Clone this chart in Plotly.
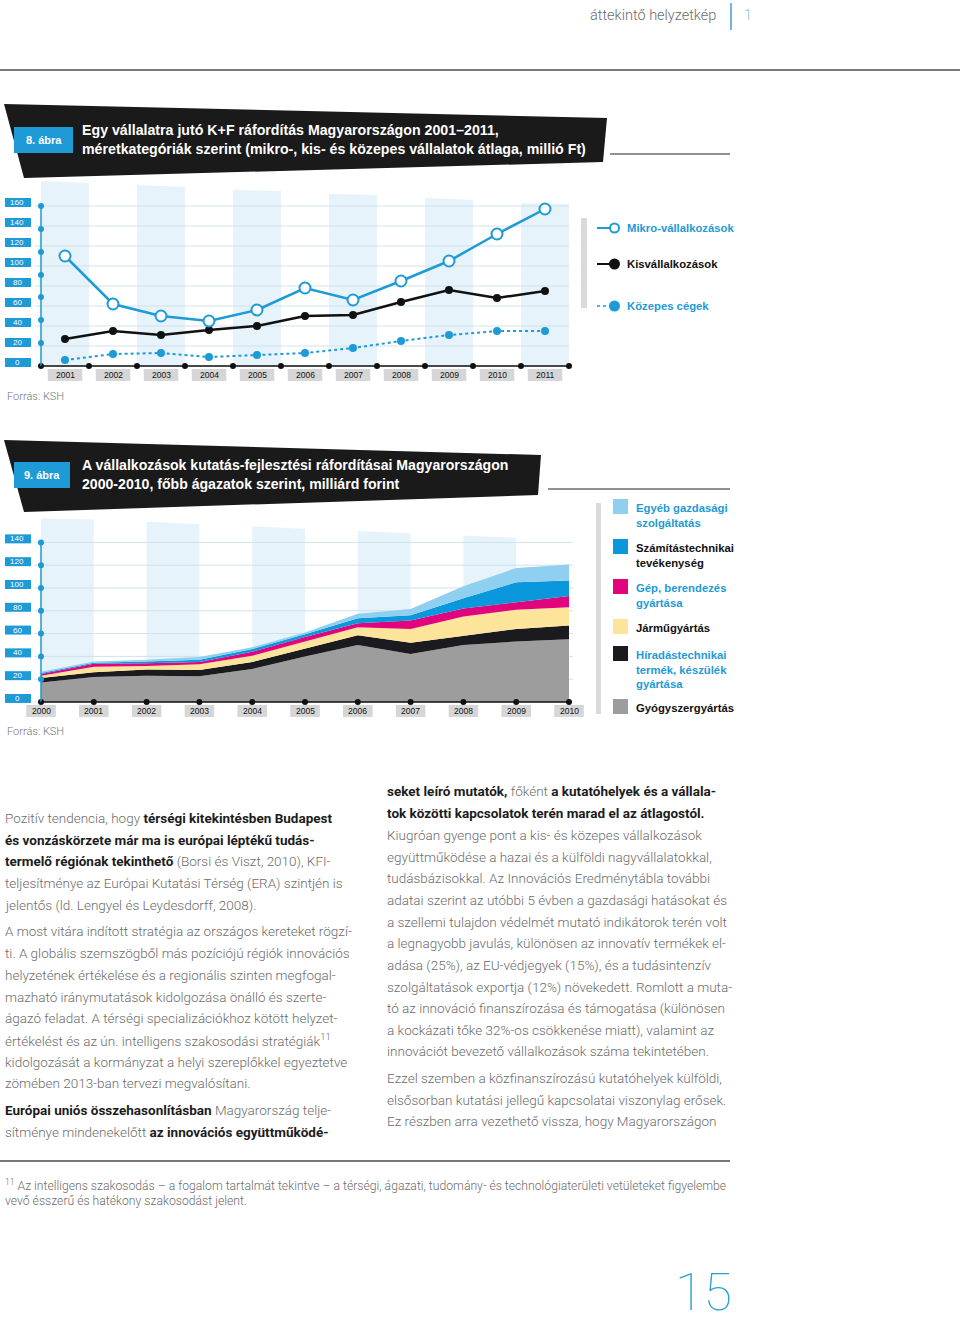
import plotly.graph_objects as go

W, H = 960, 1325
def X(p): return p / W
def Y(p): return 1 - p / H

# ---------------- data: chart 1 (8. ábra) ----------------
years1 = [2001, 2002, 2003, 2004, 2005, 2006, 2007, 2008, 2009, 2010, 2011]
micro = [110, 62, 50, 45, 56, 78, 66, 85, 105, 132, 157]
small = [27, 35, 31, 36, 40, 50, 51, 64, 76, 68, 75]
medium = [6, 12, 13, 9, 11, 13, 18, 25, 31, 35, 35]
ticks1 = [0, 20, 40, 60, 80, 100, 120, 140, 160]
axis_dots1 = [23, 46, 69, 91, 114, 137, 160]
band_years1 = [2001, 2003, 2005, 2007, 2009, 2011]
band_tops1 = [(185, 183), (181, 179), (176, 175), (172, 171), (168, 166), (163, 162)]
legend1 = ["Mikro-vállalkozások", "Kisvállalkozások", "Közepes cégek"]

# ---------------- data: chart 2 (9. ábra) ----------------
years2 = [2000, 2001, 2002, 2003, 2004, 2005, 2006, 2007, 2008, 2009, 2010]
pharma = [17, 22, 23, 22.5, 29, 40, 50, 42, 50, 53, 55]
telecom = [4, 4, 5.5, 5.5, 6, 7, 8.5, 10, 8, 11, 12]
vehicle = [2, 5, 3, 5, 5.5, 6, 7, 12, 17, 17, 16]
machine = [1.5, 2.5, 2.5, 2, 3.5, 4, 3.5, 7.5, 7, 6.5, 10]
computing = [1, 1, 1.5, 2, 2.5, 2.5, 4.5, 4.5, 9, 17.5, 13.5]
other = [1, 1, 1.5, 2.5, 1.5, 1.5, 4, 5.5, 10.5, 12.5, 14]
ticks2 = [0, 20, 40, 60, 80, 100, 120, 140]
band_starts2 = [2000, 2002, 2004, 2006, 2008]
band_tops2 = [(161, 160), (158, 156), (154, 152), (150, 148), (146, 144)]

series2 = [
    ("Gyógyszergyártás", pharma, "#9d9d9e"),
    ("Híradástechnikai<br>termék, készülék<br>gyártása", telecom, "#1b1a1f"),
    ("Járműgyártás", vehicle, "#fde49b"),
    ("Gép, berendezés<br>gyártása", machine, "#e2047d"),
    ("Számítástechnikai<br>tevékenység", computing, "#0a97dc"),
    ("Egyéb gazdasági<br>szolgáltatás", other, "#8fd0f0"),
]

BLUE = "#1e9ad6"
BAND = "#e6f3fb"
GRID = "#cfe2ec"
BODY = "Roboto"
COND = "Liberation Sans"
BODY_SIZE = 13.5

fig = go.Figure()
shapes = []
ann = []

def text(x, y, t, size, color, xref="paper", yref="paper", xa="center", ya="middle",
         family=COND, weight=None, align="left"):
    f = dict(family=family, size=size, color=color)
    if weight is not None:
        f["weight"] = weight
    ann.append(dict(xref=xref, yref=yref, x=x, y=y, text=t, showarrow=False,
                    xanchor=xa, yanchor=ya, align=align, font=f))

# ================= chart 1 =================
for (yr, (tl, tr)) in zip(band_years1, band_tops1):
    shapes.append(dict(type="path", xref="x", yref="y", layer="below",
                       path=f"M {yr-0.5},0 L {yr-0.5},{tl} L {yr+0.5},{tr} L {yr+0.5},0 Z",
                       fillcolor=BAND, line=dict(width=0)))
x0_1 = years1[0] - 0.5
x1_1 = years1[-1] + 0.5
for v in ticks1:
    shapes.append(dict(type="line", xref="x", yref="y", layer="below",
                       x0=x0_1 - 0.12, x1=x1_1, y0=v, y1=v, line=dict(color=GRID, width=1)))
    shapes.append(dict(type="rect", xref="paper", yref="y", x0=X(5), x1=X(31), y0=v - 1, y1=v + 8,
                       fillcolor=BLUE, line=dict(width=0)))
    text(X(17), v + 3.5, str(v), 8, "white", yref="y")
shapes.append(dict(type="line", xref="x", yref="y", x0=x0_1, x1=x0_1, y0=0, y1=ticks1[-1],
                   line=dict(color=BLUE, width=1.5)))
shapes.append(dict(type="line", xref="x", yref="y", x0=x0_1, x1=x1_1, y0=0, y1=0,
                   line=dict(color="#111", width=1.5)))
for yr in years1:
    shapes.append(dict(type="rect", xref="x", yref="y", x0=yr - 0.36, x1=yr + 0.36, y0=-15, y1=-3,
                       fillcolor="#d6d6d6", line=dict(width=0)))
    text(yr, -9, str(yr), 8.5, "#111", xref="x", yref="y")

half_years = [y - 0.5 for y in years1] + [years1[-1] + 0.5]
fig.add_trace(go.Scatter(x=[x0_1] * len(axis_dots1), y=axis_dots1, mode="markers",
                         marker=dict(color=BLUE, size=6), xaxis="x", yaxis="y", hoverinfo="skip"))
fig.add_trace(go.Scatter(x=half_years, y=[0] * len(half_years), mode="markers",
                         marker=dict(color="#111", size=6), xaxis="x", yaxis="y", hoverinfo="skip"))
fig.add_trace(go.Scatter(x=years1, y=medium, mode="lines+markers", name=legend1[2],
                         line=dict(color=BLUE, width=2, dash="dot"),
                         marker=dict(color=BLUE, size=8), xaxis="x", yaxis="y"))
fig.add_trace(go.Scatter(x=years1, y=small, mode="lines+markers", name=legend1[1],
                         line=dict(color="#111", width=2.5),
                         marker=dict(color="#111", size=8), xaxis="x", yaxis="y"))
fig.add_trace(go.Scatter(x=years1, y=micro, mode="lines+markers", name=legend1[0],
                         line=dict(color=BLUE, width=2.5),
                         marker=dict(color="white", size=11, line=dict(color=BLUE, width=2)),
                         xaxis="x", yaxis="y"))

# legend 1
shapes.append(dict(type="rect", xref="paper", yref="paper", x0=X(581), x1=X(587), y0=Y(308), y1=Y(218),
                   fillcolor="#dadada", line=dict(width=0)))
leg1 = [(228, BLUE, "solid", "open"), (264, "#111", "solid", "fill"), (306, BLUE, "dot", "fill")]
for name, (yy, col, dash, mk) in zip(legend1, leg1):
    shapes.append(dict(type="line", xref="paper", yref="paper", x0=X(597), x1=X(611), y0=Y(yy), y1=Y(yy),
                       line=dict(color=col, width=2 if dash == "solid" else 1.5, dash=dash)))
    shapes.append(dict(type="circle", xref="paper", yref="paper", x0=X(610), x1=X(619), y0=Y(yy + 4.5),
                       y1=Y(yy - 4.5), fillcolor="white" if mk == "open" else col,
                       line=dict(color=col, width=2)))
    text(X(625), Y(yy), f"<b>{name}</b>", 11.3, col, xa="left")

# title 1
shapes.append(dict(type="path", xref="paper", yref="paper",
                   path=f"M {X(4)},{Y(104)} L {X(607)},{Y(118)} L {X(603)},{Y(162)} L {X(24)},{Y(178)} Z",
                   fillcolor="#1a1a1a", line=dict(width=0)))
shapes.append(dict(type="rect", xref="paper", yref="paper", x0=X(14), x1=X(73), y0=Y(153), y1=Y(127),
                   fillcolor=BLUE, line=dict(width=0)))
text(X(43.5), Y(140), "<b>8. ábra</b>", 11, "white")
text(X(80), Y(130), "<b>Egy vállalatra jutó K+F ráfordítás Magyarországon 2001–2011,</b>", 14.2, "white", xa="left")
text(X(80), Y(149), "<b>méretkategóriák szerint (mikro-, kis- és közepes vállalatok átlaga, millió Ft)</b>",
     14.2, "white", xa="left")
shapes.append(dict(type="line", xref="paper", yref="paper", x0=X(610), x1=X(730), y0=Y(154), y1=Y(154),
                   line=dict(color="#222", width=1)))
text(X(5), Y(396), "Forrás: KSH", 11, "#777", xa="left", family=BODY, weight=300)

# ================= chart 2 =================
for (st, (tl, tr)) in zip(band_starts2, band_tops2):
    shapes.append(dict(type="path", xref="x2", yref="y2", layer="below",
                       path=f"M {st},0 L {st},{tl} L {st+1},{tr} L {st+1},0 Z",
                       fillcolor=BAND, line=dict(width=0)))
k2 = 1 / 1.14
for v in ticks2:
    shapes.append(dict(type="line", xref="x2", yref="y2", layer="below",
                       x0=years2[0] - 0.12, x1=years2[-1] + 0.08, y0=v, y1=v, line=dict(color=GRID, width=1)))
    shapes.append(dict(type="rect", xref="paper", yref="y2", x0=X(5), x1=X(31), y0=v - 1 * k2, y1=v + 8 * k2,
                       fillcolor=BLUE, line=dict(width=0)))
    text(X(17), v + 3.5 * k2, str(v), 8, "white", yref="y2")

for name, vals, col in series2:
    fig.add_trace(go.Scatter(x=years2, y=vals, mode="lines", stackgroup="one", name=name,
                             line=dict(width=0, color=col), fillcolor=col, xaxis="x2", yaxis="y2"))

shapes.append(dict(type="line", xref="x2", yref="y2", x0=years2[0], x1=years2[0], y0=0, y1=ticks2[-1],
                   line=dict(color=BLUE, width=1.5)))
shapes.append(dict(type="line", xref="x2", yref="y2", x0=years2[0], x1=years2[-1], y0=0, y1=0,
                   line=dict(color="#111", width=1.5)))
fig.add_trace(go.Scatter(x=[years2[0]] * (len(ticks2) - 1), y=ticks2[1:], mode="markers",
                         marker=dict(color=BLUE, size=6), xaxis="x2", yaxis="y2", hoverinfo="skip"))
fig.add_trace(go.Scatter(x=years2, y=[0] * len(years2), mode="markers",
                         marker=dict(color="#111", size=6), xaxis="x2", yaxis="y2", hoverinfo="skip"))
for yr in years2:
    shapes.append(dict(type="rect", xref="x2", yref="y2", x0=yr - 0.28, x1=yr + 0.28, y0=-15 * k2, y1=-3 * k2,
                       fillcolor="#d6d6d6", line=dict(width=0)))
    text(yr, -9 * k2, str(yr), 8.5, "#111", xref="x2", yref="y2")

# legend 2
shapes.append(dict(type="rect", xref="paper", yref="paper", x0=X(596), x1=X(601), y0=Y(714), y1=Y(503),
                   fillcolor="#dadada", line=dict(width=0)))
leg2_pos = [699, 646, 619, 579, 539, 499]
leg2_txtcol = ["#111", BLUE, "#111", BLUE, "#111", BLUE]
for (name, vals, col), top, tcol in zip(series2, leg2_pos, leg2_txtcol):
    shapes.append(dict(type="rect", xref="paper", yref="paper", x0=X(613), x1=X(628), y0=Y(top + 15),
                       y1=Y(top), fillcolor=col, line=dict(width=0)))
    text(X(634), Y(top + 1), f"<b>{name}</b>", 11.3, tcol, xa="left", ya="top")

# title 2
shapes.append(dict(type="path", xref="paper", yref="paper",
                   path=f"M {X(4)},{Y(440)} L {X(541)},{Y(455)} L {X(538)},{Y(495)} L {X(24)},{Y(512)} Z",
                   fillcolor="#1a1a1a", line=dict(width=0)))
shapes.append(dict(type="rect", xref="paper", yref="paper", x0=X(14), x1=X(70), y0=Y(488), y1=Y(462),
                   fillcolor=BLUE, line=dict(width=0)))
text(X(42), Y(475), "<b>9. ábra</b>", 11, "white")
text(X(80), Y(465), "<b>A vállalkozások kutatás-fejlesztési ráfordításai Magyarországon</b>", 14.1, "white", xa="left")
text(X(80), Y(484), "<b>2000-2010, főbb ágazatok szerint, milliárd forint</b>", 14.1, "white", xa="left")
shapes.append(dict(type="line", xref="paper", yref="paper", x0=X(548), x1=X(730), y0=Y(489), y1=Y(489),
                   line=dict(color="#222", width=1)))
text(X(5), Y(731), "Forrás: KSH", 11, "#777", xa="left", family=BODY, weight=300)

# ================= page text =================
def B(s):
    return f'<span style="color:#1c1c1c"><b>{s}</b></span>'

left_lines = [
    (818, "Pozitív tendencia, hogy " + B("térségi kitekintésben Budapest")),
    (840, B("és vonzáskörzete már ma is európai léptékű tudás-")),
    (861, B("termelő régiónak tekinthető") + " (Borsi és Viszt, 2010), KFI-"),
    (883, "teljesítménye az Európai Kutatási Térség (ERA) szintjén is"),
    (905, "jelentős (ld. Lengyel és Leydesdorff, 2008)."),
    (931, "A most vitára indított stratégia az országos kereteket rögzí-"),
    (953, "ti. A globális szemszögből más pozíciójú régiók innovációs"),
    (975, "helyzetének értékelése és a regionális szinten megfogal-"),
    (997, "mazható iránymutatások kidolgozása önálló és szerte-"),
    (1018, "ágazó feladat. A térségi specializációkhoz kötött helyzet-"),
    (1040, "értékelést és az ún. intelligens szakosodási stratégiák<sup>11</sup>"),
    (1062, "kidolgozását a kormányzat a helyi szereplőkkel egyeztetve"),
    (1083, "zömében 2013-ban tervezi megvalósítani."),
    (1110, B("Európai uniós összehasonlításban") + " Magyarország telje-"),
    (1132, "sítménye mindenekelőtt " + B("az innovációs együttműködé-")),
]
right_lines = [
    (791, B("seket leíró mutatók,") + " főként " + B("a kutatóhelyek és a vállala-")),
    (813, B("tok közötti kapcsolatok terén marad el az átlagostól.")),
    (835, "Kiugróan gyenge pont a kis- és közepes vállalkozások"),
    (857, "együttműködése a hazai és a külföldi nagyvállalatokkal,"),
    (878, "tudásbázisokkal. Az Innovációs Eredménytábla további"),
    (900, "adatai szerint az utóbbi 5 évben a gazdasági hatásokat és"),
    (922, "a szellemi tulajdon védelmét mutató indikátorok terén volt"),
    (943, "a legnagyobb javulás, különösen az innovatív termékek el-"),
    (965, "adása (25%), az EU-védjegyek (15%), és a tudásintenzív"),
    (987, "szolgáltatások exportja (12%) növekedett. Romlott a muta-"),
    (1008, "tó az innováció finanszírozása és támogatása (különösen"),
    (1030, "a kockázati tőke 32%-os csökkenése miatt), valamint az"),
    (1051, "innovációt bevezető vállalkozások száma tekintetében."),
    (1078, "Ezzel szemben a közfinanszírozású kutatóhelyek külföldi,"),
    (1100, "elsősorban kutatási jellegű kapcsolatai viszonylag erősek."),
    (1121, "Ez részben arra vezethető vissza, hogy Magyarországon"),
]
for (yy, t) in left_lines:
    text(X(3), Y(yy), t, BODY_SIZE, "#6c6c6c", xa="left", family=BODY, weight=300)
for (yy, t) in right_lines:
    text(X(385), Y(yy), t, BODY_SIZE, "#6c6c6c", xa="left", family=BODY, weight=300)

# header
text(X(718), Y(16), "áttekintő helyzetkép", 14.5, "#6c6c6c", xa="right", family=BODY, weight=300)
text(X(742), Y(16), "1", 14.5, "#8cc3da", xa="left", family=BODY, weight=300)
shapes.append(dict(type="line", xref="paper", yref="paper", x0=X(731), x1=X(731), y0=Y(3), y1=Y(30),
                   line=dict(color="#3fa0c8", width=1.5)))
shapes.append(dict(type="line", xref="paper", yref="paper", x0=0, x1=1, y0=Y(70), y1=Y(70),
                   line=dict(color="#7a7a7a", width=2)))

# footer
shapes.append(dict(type="line", xref="paper", yref="paper", x0=0, x1=X(730), y0=Y(1161), y1=Y(1161),
                   line=dict(color="#4a4a4a", width=1.5)))
text(X(3), Y(1185), "<sup>11</sup> Az intelligens szakosodás – a fogalom tartalmát tekintve – a térségi, ágazati, "
     "tudomány- és technológiaterületi vetületeket figyelembe", 12.2, "#6c6c6c", xa="left", family=BODY, weight=300)
text(X(3), Y(1201), "vevő ésszerű és hatékony szakosodást jelent.", 12.2, "#6c6c6c", xa="left",
     family=BODY, weight=300)
text(X(703), 0, "15", 52, "#2a9fd6", ya="bottom", family=BODY, weight=100)

ax_common = dict(visible=False, showgrid=False, zeroline=False, fixedrange=True)
fig.update_layout(
    width=W, height=H, margin=dict(l=0, r=0, t=0, b=0),
    paper_bgcolor="white", plot_bgcolor="rgba(0,0,0,0)", showlegend=False,
    xaxis=dict(domain=[0, X(600)], range=[2000.5 - 41 / 48, 2000.5 + 559 / 48], anchor="y", **ax_common),
    yaxis=dict(domain=[Y(388), Y(176)], range=[-22, 190], anchor="x", **ax_common),
    xaxis2=dict(domain=[0, X(600)], range=[2000 - 41 / 52.8, 2000 + 559 / 52.8], anchor="y2", **ax_common),
    yaxis2=dict(domain=[Y(725), Y(514)], range=[-20.2, 164.9], anchor="x2", **ax_common),
    shapes=shapes, annotations=ann,
)
fig.write_html("out.html", config={"displayModeBar": False},
               post_script="document.body.style.margin='0px';document.body.style.overflow='hidden';")
